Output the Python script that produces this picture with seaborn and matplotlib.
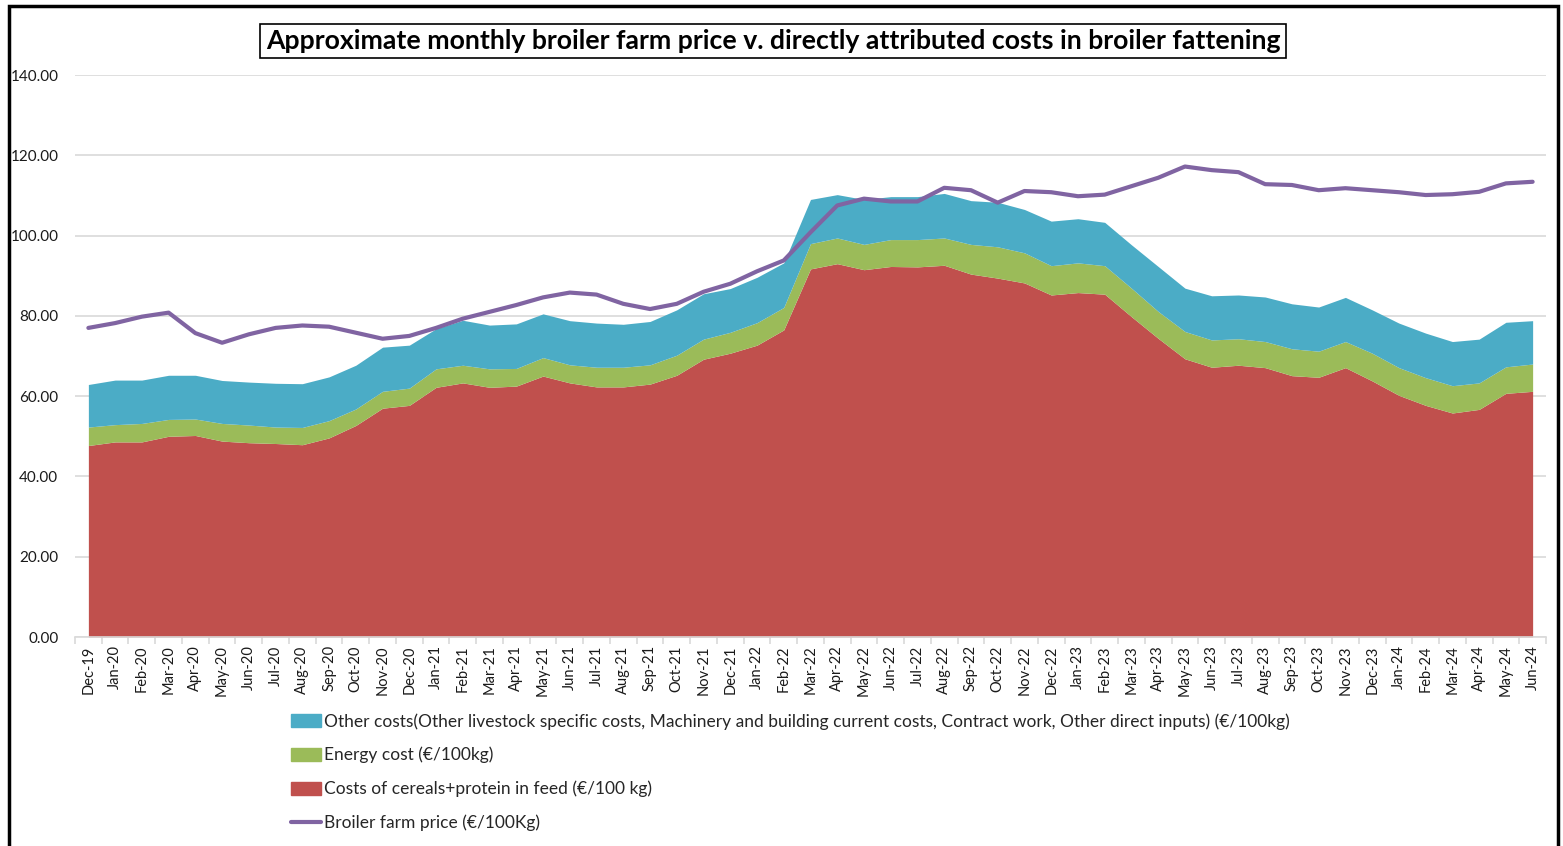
import matplotlib
matplotlib.use("Agg")
import matplotlib.pyplot as plt
import matplotlib.patches as mpatches
import matplotlib.lines as mlines
from matplotlib.ticker import FixedLocator, FuncFormatter
import numpy as np
import pandas as pd
import seaborn as sns

months = ["Dec-19",
          "Jan-20", "Feb-20", "Mar-20", "Apr-20", "May-20", "Jun-20", "Jul-20", "Aug-20", "Sep-20", "Oct-20", "Nov-20", "Dec-20",
          "Jan-21", "Feb-21", "Mar-21", "Apr-21", "May-21", "Jun-21", "Jul-21", "Aug-21", "Sep-21", "Oct-21", "Nov-21", "Dec-21",
          "Jan-22", "Feb-22", "Mar-22", "Apr-22", "May-22", "Jun-22", "Jul-22", "Aug-22", "Sep-22", "Oct-22", "Nov-22", "Dec-22",
          "Jan-23", "Feb-23", "Mar-23", "Apr-23", "May-23", "Jun-23", "Jul-23", "Aug-23", "Sep-23", "Oct-23", "Nov-23", "Dec-23",
          "Jan-24", "Feb-24", "Mar-24", "Apr-24", "May-24", "Jun-24"]

cereals_protein = [47.7, 48.6, 48.6, 50.0, 50.2, 48.8, 48.4, 48.2, 47.9, 49.6, 52.7, 57.0, 57.7,
                   62.2, 63.3, 62.2, 62.5, 65.0, 63.3, 62.3, 62.3, 63.0, 65.2, 69.2, 70.7,
                   72.7, 76.5, 91.7, 93.0, 91.5, 92.3, 92.2, 92.6, 90.4, 89.4, 88.2, 85.2,
                   85.8, 85.4, 79.8, 74.4, 69.3, 67.2, 67.7, 67.1, 65.1, 64.7, 67.1, 63.8,
                   60.2, 57.7, 55.8, 56.7, 60.7, 61.2]

energy_cost = [4.6, 4.3, 4.6, 4.2, 4.1, 4.4, 4.4, 4.1, 4.3, 4.3, 4.1, 4.2, 4.3,
               4.6, 4.4, 4.6, 4.4, 4.6, 4.5, 4.9, 4.9, 4.8, 5.0, 5.0, 5.2,
               5.6, 5.6, 6.3, 6.4, 6.3, 6.7, 6.8, 6.8, 7.4, 7.8, 7.5, 7.3,
               7.4, 7.1, 7.1, 6.7, 6.8, 6.8, 6.6, 6.5, 6.7, 6.5, 6.5, 6.9,
               6.9, 6.9, 6.8, 6.6, 6.6, 6.8]

other_costs = [10.6, 11.1, 10.8, 11.0, 10.9, 10.7, 10.7, 10.9, 10.9, 10.9, 10.9, 11.0, 10.7,
               10.0, 11.2, 10.9, 11.1, 10.9, 11.0, 11.0, 10.7, 10.8, 11.3, 11.3, 10.9,
               11.3, 11.1, 11.0, 10.8, 11.2, 10.7, 10.7, 11.1, 10.9, 11.1, 10.8, 11.1,
               11.0, 10.8, 10.8, 11.2, 10.8, 11.0, 10.9, 11.1, 11.2, 11.0, 11.0, 10.8,
               11.1, 11.1, 11.0, 10.9, 11.1, 10.8]

broiler_price = [77.0, 78.2, 79.8, 80.8, 75.7, 73.3, 75.4, 77.0, 77.6, 77.3, 75.8, 74.3, 75.0,
                 77.0, 79.3, 81.0, 82.7, 84.6, 85.8, 85.3, 83.0, 81.7, 83.0, 86.0, 88.0,
                 91.1, 93.8, 100.8, 107.5, 109.2, 108.5, 108.5, 111.9, 111.3, 108.2, 111.1, 110.8,
                 109.8, 110.2, 112.3, 114.4, 117.2, 116.3, 115.8, 112.8, 112.6, 111.3, 111.8, 111.3,
                 110.8, 110.1, 110.3, 110.9, 113.0, 113.4]

y_ticks = [0, 20, 40, 60, 80, 100, 120, 140]

title = "Approximate monthly broiler farm price v. directly attributed costs in broiler fattening"
lbl_other = ("Other costs(Other livestock specific costs, Machinery and building current costs, "
             "Contract work, Other direct inputs) (€/100kg)")
lbl_energy = "Energy cost (€/100kg)"
lbl_cereal = "Costs of cereals+protein in feed (€/100 kg)"
lbl_price = "Broiler farm price (€/100Kg)"

c_red = "#C0504D"
c_green = "#9BBB59"
c_blue = "#4BACC6"
c_purple = "#8064A2"

sns.set_theme(style="white")
plt.rcParams["font.family"] = ["Lato", "DejaVu Sans"]

df = pd.DataFrame({"month": months, "idx": np.arange(len(months)),
                   "cereal": cereals_protein, "energy": energy_cost,
                   "other": other_costs, "price": broiler_price})

fig = plt.figure(figsize=(15.63, 8.46), dpi=100)
ax = fig.add_axes([75 / 1563, 209 / 846, (1546 - 75) / 1563, (637 - 75) / 846])

ax.stackplot(df["idx"], df["cereal"], df["energy"], df["other"],
             colors=[c_red, c_green, c_blue], linewidth=0, zorder=2)
sns.lineplot(data=df, x="idx", y="price", color=c_purple, linewidth=3, ax=ax,
             zorder=3, legend=False)

ax.set_xlim(-0.5, len(months) - 0.5)
ax.set_ylim(0, 140)
ax.set_xlabel("")
ax.set_ylabel("")
ax.set_yticks(y_ticks)
ax.yaxis.set_major_formatter(FuncFormatter(lambda v, p: f"{v:.2f}"))
ax.grid(axis="y", color="#d9d9d9", linewidth=1.2, zorder=0)
ax.set_axisbelow(True)
for s in ["top", "right", "left"]:
    ax.spines[s].set_visible(False)
ax.spines["bottom"].set_color("#d9d9d9")
ax.spines["bottom"].set_linewidth(1.2)

ax.set_xticks(df["idx"])
ax.set_xticklabels(months, rotation=90, fontsize=10.5, color="#1a1a1a")
ax.xaxis.set_minor_locator(FixedLocator(np.arange(-0.5, len(months), 1.0)))
ax.tick_params(axis="x", which="major", length=0, pad=6)
ax.tick_params(axis="x", which="minor", length=5, color="#d9d9d9", width=1.2, bottom=True)
ax.tick_params(axis="y", length=0, labelsize=11, labelcolor="#1a1a1a", pad=12)

fig.text(773 / 1563, 1 - 41 / 846, title, ha="center", va="center",
         fontsize=19.2, fontweight="bold", color="black",
         bbox=dict(boxstyle="square,pad=0.2", facecolor="white", edgecolor="black", linewidth=1.2))

handles = [mpatches.Patch(color=c_blue, label=lbl_other),
           mpatches.Patch(color=c_green, label=lbl_energy),
           mpatches.Patch(color=c_red, label=lbl_cereal),
           mlines.Line2D([], [], color=c_purple, linewidth=3, label=lbl_price)]
leg = fig.legend(handles=handles, loc="upper left", bbox_to_anchor=(284 / 1563, 1 - 706 / 846),
                 frameon=False, fontsize=12.5, handlelength=1.75, handleheight=0.8,
                 handletextpad=0.15, labelspacing=1.0, borderaxespad=0)

fig.add_artist(mpatches.Rectangle((9 / 1563, -0.02), (1558 - 9) / 1563, 1.02 - 6 / 846,
                                  transform=fig.transFigure, fill=False,
                                  edgecolor="black", linewidth=2.5))

fig.savefig("out.png", dpi=100)
